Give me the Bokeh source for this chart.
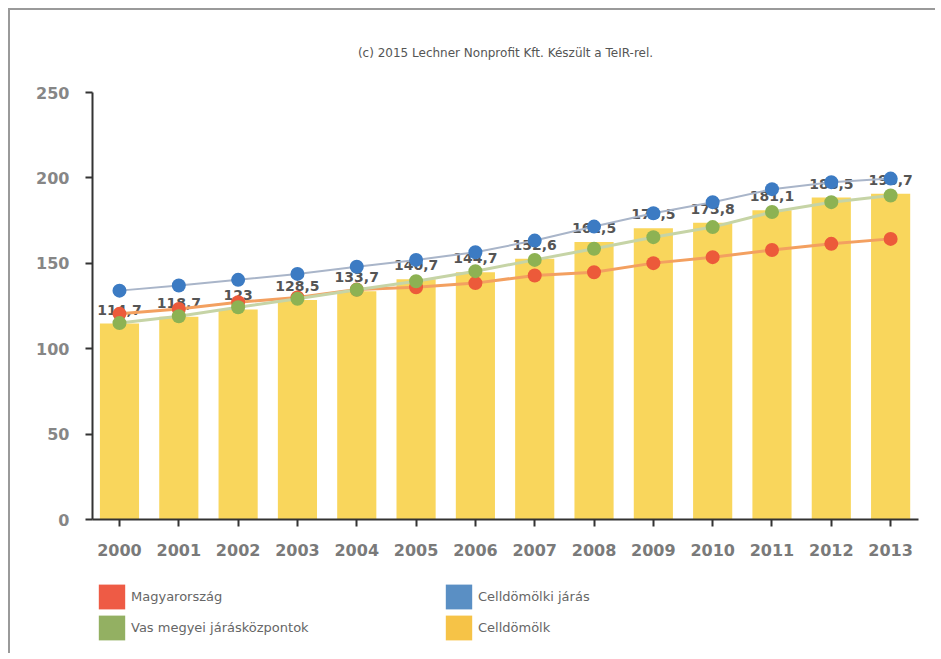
from bokeh.plotting import figure
from bokeh.models import Range1d, FixedTicker, Legend, LegendItem, ColumnDataSource
from bokeh.layouts import column
from bokeh.core.properties import value
from bokeh.embed import file_html
from bokeh.resources import INLINE

# ---- data ----
years = [2000, 2001, 2002, 2003, 2004, 2005, 2006, 2007, 2008, 2009, 2010, 2011, 2012, 2013]
celldomolk = [114.7, 118.7, 123.0, 128.5, 133.7, 140.7, 144.7, 152.6, 162.5, 170.5, 173.8, 181.1, 188.5, 190.7]
celldomolki_jaras = [134.0, 137.0, 140.3, 143.8, 148.0, 152.0, 156.5, 163.3, 171.5, 179.3, 185.8, 193.4, 197.5, 199.6]
vas_jaraskozpontok = [115.0, 119.0, 124.3, 129.2, 134.5, 139.5, 145.4, 152.0, 158.5, 165.3, 171.2, 180.0, 185.8, 189.7]
magyarorszag = [120.4, 123.3, 127.2, 130.0, 134.6, 136.0, 138.4, 142.9, 144.8, 150.1, 153.6, 157.8, 161.4, 164.3]
y_ticks = [0, 50, 100, 150, 200, 250]
series_names = ["Magyarország", "Vas megyei járásközpontok", "Celldömölki járás", "Celldömölk"]
credit = "(c) 2015 Lechner Nonprofit Kft. Készült a TeIR-rel."

bar_labels = [("%g" % v).replace(".", ",") for v in celldomolk]

FONT = value("DejaVu Sans")

p = figure(width=925, height=563, output_backend="svg", toolbar_location=None,
           x_range=Range1d(1999.545, 2013.47), y_range=Range1d(0, 250),
           min_border_left=82, min_border_right=17, min_border_top=82, min_border_bottom=54)
p.background_fill_color = "white"
p.border_fill_color = "white"
p.outline_line_color = None
p.grid.visible = False

p.title.text = credit
p.title.align = "center"
p.title.text_font = "DejaVu Sans"
p.title.text_font_size = "12px"
p.title.text_font_style = "normal"
p.title.text_color = "#555555"
p.title.standoff = 65

# bars
src = ColumnDataSource(dict(x=years, top=celldomolk, lab=bar_labels))
p.vbar(x="x", top="top", width=0.66, source=src, fill_color="#f9d65c", line_color=None)
p.text(x="x", y="top", text="lab", source=src, text_align="center", text_baseline="bottom",
       y_offset=-9, text_font=FONT, text_font_style="bold", text_font_size="14px",
       text_color="#555555")

# lines
p.line(years, magyarorszag, line_color="#f3a060", line_width=3)
p.scatter(years, magyarorszag, size=14, fill_color="#ec5a3a", line_color=None)
p.line(years, vas_jaraskozpontok, line_color="#c6d4a6", line_width=3)
p.scatter(years, vas_jaraskozpontok, size=14, fill_color="#8db253", line_color=None)
p.line(years, celldomolki_jaras, line_color="#a9b5c9", line_width=2)
p.scatter(years, celldomolki_jaras, size=14, fill_color="#3c7bc3", line_color=None)

# axes
for ax in (p.xaxis[0], p.yaxis[0]):
    ax.axis_line_color = "#333333"
    ax.axis_line_width = 2
    ax.major_tick_line_color = "#333333"
    ax.major_tick_line_width = 2
    ax.major_tick_out = 7
    ax.major_tick_in = 0
    ax.minor_tick_line_color = None
    ax.major_label_text_font = "DejaVu Sans"
    ax.major_label_text_font_size = "16px"
    ax.major_label_text_font_style = "bold"
p.xaxis.ticker = FixedTicker(ticks=years)
p.xaxis.major_label_text_color = "#7a7a7a"
p.xaxis.major_label_standoff = 17
p.yaxis.ticker = FixedTicker(ticks=y_ticks)
p.yaxis.major_label_text_color = "#868686"
p.yaxis.major_label_standoff = 16

# legend panel (separate figure below the chart)
lf = figure(width=925, height=80, output_backend="svg", toolbar_location=None,
            x_range=Range1d(0, 1), y_range=Range1d(0, 1),
            min_border=0, min_border_left=0, min_border_right=0,
            min_border_top=0, min_border_bottom=0)
lf.axis.visible = False
lf.grid.visible = False
lf.outline_line_color = None
lf.background_fill_color = "white"
lf.border_fill_color = "white"

# swatch-only renderers, placed outside the visible range so only the legend shows them
sw_colors = ["#ee5b45", "#93b062", "#5a8fc4", "#f6c347"]
sw = [lf.vbar(x=[-5], top=[0], width=0.5, fill_color=c, line_color=None) for c in sw_colors]

def make_legend(items, x):
    lg = Legend(items=items, location=(x, 10), orientation="vertical",
                glyph_width=33, glyph_height=31, spacing=0, padding=0, margin=0,
                label_standoff=3, label_text_font="DejaVu Sans", label_text_font_size="13px",
                label_text_color="#666666", border_line_color=None, background_fill_alpha=0)
    lf.add_layout(lg, "center")

make_legend([LegendItem(label=series_names[0], renderers=[sw[0]]),
             LegendItem(label=series_names[1], renderers=[sw[1]])], 3)
make_legend([LegendItem(label=series_names[2], renderers=[sw[2]]),
             LegendItem(label=series_names[3], renderers=[sw[3]])], 350)

layout = column(p, lf, spacing=0)
layout.styles = {"border-left": "2px solid #9a9a9a", "border-top": "2px solid #9a9a9a",
                 "margin-left": "8px", "margin-top": "8px"}

open("out.html", "w").write(file_html(layout, INLINE))
